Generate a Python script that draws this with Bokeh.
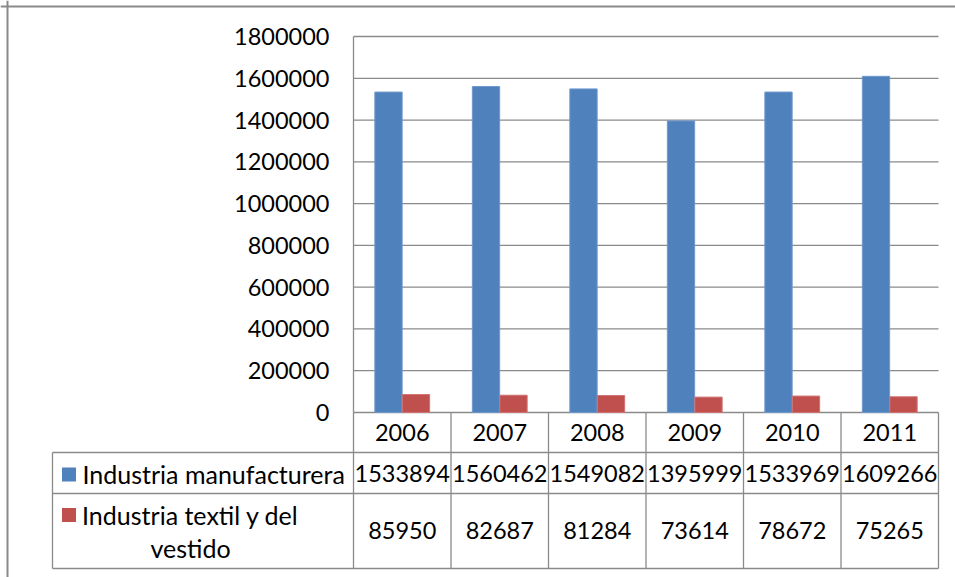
from bokeh.plotting import figure
from bokeh.models import Range1d, LinearAxis, FixedTicker, BasicTickFormatter, Span
from bokeh.core.properties import value
from bokeh.embed import file_html
from bokeh.resources import INLINE
import numpy as np

# ---- data ----
years = ["2006", "2007", "2008", "2009", "2010", "2011"]
manufacturera = [1533894, 1560462, 1549082, 1395999, 1533969, 1609266]
textil = [85950, 82687, 81284, 73614, 78672, 75265]
series_names = ["Industria manufacturera", "Industria textil y del", "vestido"]
y_ticks = [0, 200000, 400000, 600000, 800000, 1000000, 1200000, 1400000, 1600000, 1800000]

# ---- layout (pixels) ----
W, H = 955, 577
plot_left_px = 353.0
col_px = 97.5
zero_px = 412.0
top_px = 36.0
vmax = 1800000
v_per_px = vmax / (zero_px - top_px)

FONT = "Lato"
FS = "23.5px"
FS_LEG = "25px"
GRID = "#8a8a8a"
BLUE = "#4F81BD"
RED = "#C0504D"

x_range = Range1d(-plot_left_px / col_px, (W - plot_left_px) / col_px)
y_range = Range1d(-(H - zero_px) * v_per_px, zero_px * v_per_px)

p = figure(width=W, height=H, x_range=x_range, y_range=y_range,
           x_axis_location=None, y_axis_location=None, min_border=0,
           outline_line_color=None, toolbar_location=None, output_backend="svg")
p.xgrid.visible = False
p.ygrid.visible = False
p.extra_y_ranges = {"tbl": Range1d(-(H - zero_px), zero_px)}

n = len(years)
idx = np.arange(n)
centers = idx + 0.5

# gridlines limited to plot area
p.segment(x0=[0] * len(y_ticks), x1=[n] * len(y_ticks), y0=y_ticks, y1=y_ticks,
          line_color=GRID, line_width=1.3)

# bars
p.vbar(x=centers - 0.141, top=manufacturera, bottom=0, width=0.28,
       fill_color=BLUE, line_color="#6f98cc", line_width=1)
p.vbar(x=centers + 0.141, top=textil, bottom=0, width=0.28,
       fill_color=RED, line_color="#cf7473", line_width=1)

# y axis at plot area's left edge
yaxis = LinearAxis(ticker=FixedTicker(ticks=y_ticks),
                   formatter=BasicTickFormatter(use_scientific=False),
                   fixed_location=0, axis_line_color=None,
                   major_tick_line_color=None, minor_tick_line_color=None,
                   major_tick_out=0, major_tick_in=0, major_label_standoff=24,
                   major_label_text_font=FONT, major_label_text_font_size=FS,
                   major_label_text_color="black")
p.add_layout(yaxis, "left")

# plot-area left edge
p.segment(x0=[0], y0=[0], x1=[0], y1=[vmax], line_color=GRID, line_width=1.3)

# data table lines
legend_left = (52 - plot_left_px) / col_px
row_lines = [-40, -81, -156]
p.segment(x0=[legend_left] * 3, x1=[n] * 3, y0=row_lines, y1=row_lines,
          line_color=GRID, line_width=1.3, y_range_name="tbl")
p.segment(x0=list(range(n + 1)), x1=list(range(n + 1)), y0=[0] * (n + 1), y1=[-156] * (n + 1),
          line_color=GRID, line_width=1.3, y_range_name="tbl")
p.segment(x0=[legend_left], x1=[legend_left], y0=[-40], y1=[-156],
          line_color=GRID, line_width=1.3, y_range_name="tbl")

# table texts
p.text(x=centers, y=[-20] * n, text=years, y_range_name="tbl",
       text_align="center", text_baseline="middle",
       text_font=value(FONT), text_font_size=FS, text_color="black")
p.text(x=centers, y=[-61] * n, text=[str(v) for v in manufacturera], y_range_name="tbl",
       text_align="center", text_baseline="middle",
       text_font=value(FONT), text_font_size=FS, text_color="black")
p.text(x=centers, y=[-118] * n, text=[str(v) for v in textil], y_range_name="tbl",
       text_align="center", text_baseline="middle",
       text_font=value(FONT), text_font_size=FS, text_color="black")

# legend cells
sw_x = (68.5 - plot_left_px) / col_px
p.rect(x=[sw_x, sw_x], y=[-62, -102.5], width=14 / col_px, height=14,
       fill_color=[BLUE, RED], line_color=None, y_range_name="tbl")
p.text(x=[(82 - plot_left_px) / col_px], y=[-61], text=[series_names[0]], y_range_name="tbl",
       text_align="left", text_baseline="middle",
       text_font=value(FONT), text_font_size=FS_LEG, text_color="black")
p.text(x=[(190 - plot_left_px) / col_px] * 2, y=[-102, -135], text=series_names[1:], y_range_name="tbl",
       text_align="center", text_baseline="middle",
       text_font=value(FONT), text_font_size=FS_LEG, text_color="black")

# outer chart border (top and left)
p.add_layout(Span(location=(7 - plot_left_px) / col_px, dimension="height",
                  line_color="#8a8a8a", line_width=2))
p.add_layout(Span(location=(zero_px - 6) * v_per_px, dimension="width",
                  line_color="#8a8a8a", line_width=2))

open("out.html", "w").write(file_html(p, INLINE))
